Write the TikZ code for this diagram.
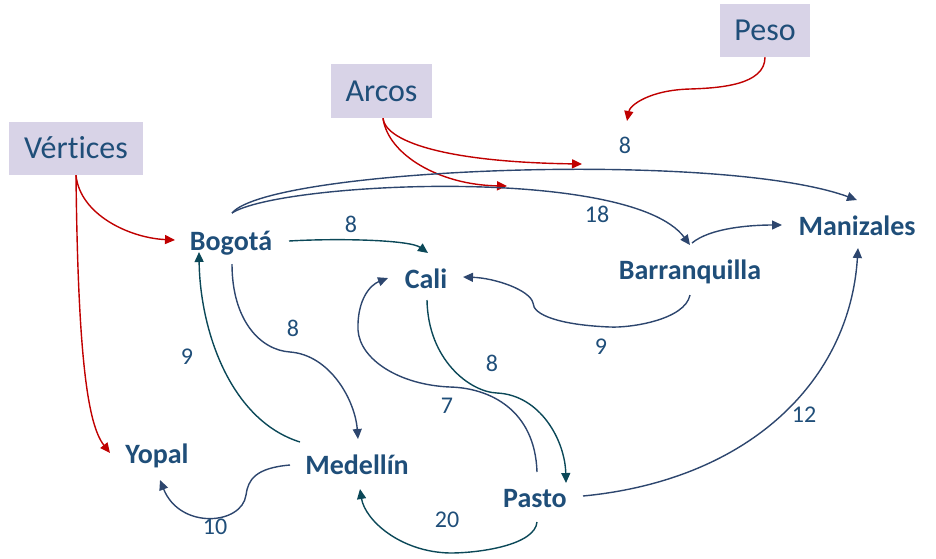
\documentclass[tikz,border=0pt]{standalone}
\usepackage{fontspec}
\setmainfont{Carlito}[Ligatures={NoCommon}]
\usetikzlibrary{arrows.meta}
\definecolor{txtC}{HTML}{1F4E79}
\definecolor{navyC}{HTML}{2D466E}
\definecolor{tealC}{HTML}{0B4858}
\definecolor{redC}{HTML}{C00000}
\definecolor{boxC}{HTML}{D8D3E7}
\begin{document}
\begin{tikzpicture}[x=1pt,y=-1pt,
  vert/.style={font=\fontsize{28}{30}\selectfont\bfseries, text=txtC, inner sep=0pt, anchor=base},
  tagbox/.style={fill=boxC, text=txtC, font=\fontsize{32}{34}\selectfont, inner sep=0pt, text height=20.5pt, text depth=0pt},
  wlabel/.style={text=txtC, font=\fontsize{24}{26}\selectfont, inner sep=0pt},
  tipA/.style={-{Triangle[length=10pt,width=9pt]}},
  edgeN/.style={draw=navyC, line width=1.4pt, tipA},
  edgeT/.style={draw=tealC, line width=1.4pt, tipA},
  edgeR/.style={draw=redC, line width=1.4pt, tipA}]
\useasboundingbox (0,0) rectangle (936,558);

% annotation boxes
\node[tagbox, minimum width=134pt, minimum height=53pt] (vtx) at (76,148.5) {Vértices};
\node[tagbox, minimum width=101pt, minimum height=54pt] (arc) at (381.5,91) {Arcos};
\node[tagbox, minimum width=90pt, minimum height=53pt] (peso) at (765,30.5) {Peso};

% vertices
\node[vert] (bog) at (231,250) {Bogotá};
\node[vert] (cali) at (426,288) {Cali};
\node[vert] (bar) at (690,279) {Barranquilla};
\node[vert] (man) at (857,235) {Manizales};
\node[vert] (yop) at (157,463) {Yopal};
\node[vert] (med) at (357,474) {Medellín};
\node[vert] (pas) at (535,507) {Pasto};

% free ends of red pointers
\coordinate (arcA) at (582,164);
\coordinate (arcB) at (507,186);
\coordinate (pesoT) at (627,121);

% red pointers
\draw[edgeR] (vtx.south) .. controls (80,215) and (130,238) .. ([shift={(-56,-10)}]bog.base);
\draw[edgeR] (vtx.south) .. controls (78,360) and (88,425) .. ([shift={(-47,-10)}]yop.base);
\draw[edgeR] ([xshift=1.5pt]arc.south) .. controls (385,140) and (440,162) .. (arcA);
\draw[edgeR] ([xshift=1.5pt]arc.south) .. controls (388,155) and (440,185) .. (arcB);
\draw[edgeR] (peso.south) .. controls (765,85) and (720,88) .. (690,89) .. controls (650,90) and (630,105) .. (pesoT);

% graph edges
\draw[edgeN] ([shift={(1,-37)}]bog.base) .. controls (270,168) and (720,150) .. ([shift={(0,-35)}]man.base);
\draw[edgeN] ([shift={(1,-37)}]bog.base) .. controls (280,182) and (630,165) .. ([shift={(0,-34)}]bar.base);
\draw[edgeN] ([shift={(2,-36)}]bar.base) .. controls (710,228) and (750,225) .. ([shift={(-75,-10)}]man.base);
\draw[edgeT] ([shift={(58,-9)}]bog.base) .. controls (340,238) and (410,240) .. ([shift={(2,-35)}]cali.base);
\draw[edgeN] ([shift={(1,14)}]bog.base) .. controls (232,320) and (260,350) .. (290,352) .. controls (330,355) and (355,400) .. ([shift={(1,-35)}]med.base);
\draw[edgeT] ([shift={(-57,-32)}]med.base) .. controls (230,420) and (200,330) .. ([shift={(-32,2)}]bog.base);
\draw[edgeN] ([shift={(-67,-9)}]med.base) .. controls (255,468) and (248,480) .. (246,495) .. controls (242,525) and (180,530) .. ([shift={(3,17)}]yop.base);
\draw[edgeN] ([shift={(0,16)}]bar.base) .. controls (685,320) and (630,328) .. (610,327) .. controls (560,325) and (533,315) .. (533,303) .. controls (530,290) and (495,278) .. ([shift={(37,-11)}]cali.base);
\draw[edgeT] ([shift={(1,12)}]cali.base) .. controls (428,360) and (470,392) .. (497,393) .. controls (540,395) and (565,440) .. ([shift={(31,-24)}]pas.base);
\draw[edgeN] ([shift={(2,-35)}]pas.base) .. controls (535,410) and (490,388) .. (450,387) .. controls (400,385) and (360,360) .. (358,330) .. controls (357,300) and (370,285) .. ([shift={(-38,-10)}]cali.base);
\draw[edgeN] ([shift={(48,-11)}]pas.base) .. controls (750,480) and (850,380) .. ([shift={(1,13)}]man.base);
\draw[edgeT] ([shift={(2,15)}]pas.base) .. controls (535,545) and (480,553) .. (450,553) .. controls (400,552) and (365,520) .. ([shift={(3,15)}]med.base);

% weights
\node[wlabel] (w1) at (625,145) {8};
\node[wlabel] (w2) at (597,214) {18};
\node[wlabel] (w3) at (351,224) {8};
\node[wlabel] (w4) at (293,328) {8};
\node[wlabel] (w5) at (187,357) {9};
\node[wlabel] (w6) at (215,527) {10};
\node[wlabel] (w7) at (601,347) {9};
\node[wlabel] (w8) at (492,363) {8};
\node[wlabel] (w9) at (447,406) {7};
\node[wlabel] (w10) at (804,415) {12};
\node[wlabel] (w11) at (447,520) {20};
\end{tikzpicture}
\end{document}
